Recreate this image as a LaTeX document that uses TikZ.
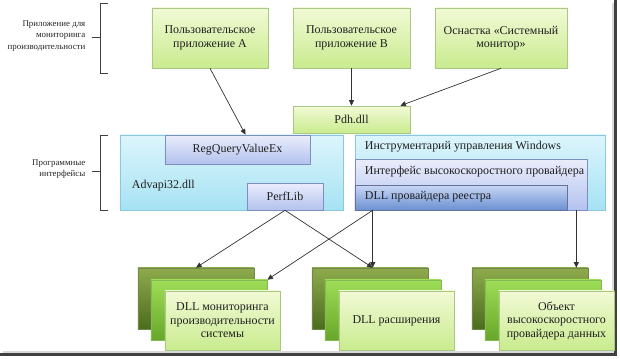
\documentclass[tikz,border=0pt]{standalone}
\usepackage{fontspec}
\setmainfont{Liberation Serif}
\usetikzlibrary{arrows.meta}
\definecolor{apptop}{HTML}{F2FAD6}
\definecolor{appbot}{HTML}{C9EB8E}
\definecolor{appline}{HTML}{A8C884}
\definecolor{apitop}{HTML}{DDF5FC}
\definecolor{apibot}{HTML}{A6E2F3}
\definecolor{apiline}{HTML}{8CC8DC}
\definecolor{ifctop}{HTML}{EAEDFB}
\definecolor{ifcbot}{HTML}{B3C2EE}
\definecolor{ifcline}{HTML}{7D8EC0}
\definecolor{dlltop}{HTML}{C9D7F5}
\definecolor{dllbot}{HTML}{6B90D2}
\definecolor{backtop}{HTML}{8EAA4C}
\definecolor{backbot}{HTML}{4C6C1E}
\definecolor{midtop}{HTML}{9EDD56}
\definecolor{midbot}{HTML}{68A62A}
\begin{document}
\begin{tikzpicture}[x=0.025cm,y=-0.025cm,
  txt/.style={font=\fontsize{8.5}{9.6}\selectfont,text=black!88},
  app/.style={txt,draw=appline,top color=apptop,bottom color=appbot,align=center,
    minimum height=1.5cm,inner sep=1pt},
  api/.style={draw=apiline,top color=apitop,bottom color=apibot,minimum height=1.875cm},
  ifc/.style={txt,draw=ifcline,top color=ifctop,bottom color=ifcbot,inner sep=1pt},
  back/.style={draw=backbot!80,top color=backtop,bottom color=backbot,
    minimum width=2.9cm,minimum height=1.525cm},
  mid/.style={draw=midbot!80,top color=midtop,bottom color=midbot,
    minimum width=2.9cm,minimum height=1.5cm},
  front/.style={app,minimum width=2.875cm,minimum height=1.475cm},
  link/.style={draw=black!80,line width=0.5pt,-{Triangle[length=4pt,width=3.6pt]}},
  brace/.style={draw=black!75,line width=0.6pt},
  side/.style={font=\fontsize{6.3}{8.2}\selectfont,text=black!85,align=right,anchor=east,inner sep=1pt},
]
\useasboundingbox (0,0) rectangle (620,358);
\fill[black!15] (612,3) rectangle (614,353);
\fill[black!15] (3,351) rectangle (614,353);
\draw[black!75,line width=1.5pt] (615.5,0) -- (615.5,354.5) -- (0,354.5);
\node[app,minimum width=2.9cm] (appA) at (210,38) {Пользовательское\\приложение А};
\node[app,minimum width=2.925cm] (appB) at (351.5,38) {Пользовательское\\приложение В};
\node[app,minimum width=3.3cm] (snap) at (501,38) {Оснастка «Системный\\монитор»};
\node[app,minimum width=2.925cm,minimum height=0.675cm] (pdh) at (351.5,119.5) {Pdh.dll};
\node[api,minimum width=5.575cm] (advapi) at (231.5,172.5) {};
\node[ifc,minimum width=3.625cm,minimum height=0.725cm] (regq) at (237.5,149.5) {RegQueryValueEx};
\node[ifc,minimum width=1.9cm,minimum height=0.675cm] (perflib) at (285,196.5) {PerfLib};
\node[txt,anchor=west] (advlbl) at (127,186) {Advapi32.dll};
\node[api,minimum width=6.25cm] (wmi) at (480,172.5) {};
\node[ifc,minimum width=5.8cm,minimum height=1.275cm] (hsp) at (471,184.5) {};
\node[ifc,draw=ifcline!80!black,top color=dlltop,bottom color=dllbot,
  minimum width=5.3cm,minimum height=0.625cm] (regdll) at (461,197.5) {};
\node[txt,anchor=west] (wmilbl) at (360,147) {Инструментарий управления Windows};
\node[txt,anchor=west] (hsplbl) at (360,171.5) {Интерфейс высокоскоростного провайдера};
\node[txt,anchor=west] (regdlllbl) at (360,197) {DLL провайдера реестра};
\foreach \x/\n/\t in {138/1/{DLL мониторинга\\производительности\\системы},
    312/2/{DLL расширения},472/3/{Объект\\высокоскоростного\\провайдера данных}}{
  \node[back] (back\n) at (\x+58,298.5) {};
  \node[mid] (mid\n) at (\x+71,310) {};
  \node[front] (front\n) at (\x+84.5,320.5) {\t};
}
\draw[brace] (108,3) -- (100,3) -- (100,73) -- (108,73) (92,37) -- (100,37);
\draw[brace] (108,135) -- (100,135) -- (100,210) -- (108,210) (92,171) -- (100,171);
\node[side] (applbl) at (87,36) {Приложение для\\мониторинга\\производительности};
\node[side] (apilbl) at (87,169) {Программные\\интерфейсы};
\coordinate (regout) at ([xshift=0.45cm]regdll.south west);
\coordinate (hspout) at ([xshift=-0.275cm]hsp.south east);
\draw[link] (appA.south) -- ([xshift=0.2cm]regq.north);
\draw[link] (appB.south) -- (pdh.north);
\draw[link] (snap.south) -- ([xshift=-0.25cm]pdh.north east);
\draw[link] (perflib.south) -- (back1.north);
\draw[link] (perflib.south) -- (regout |- back2.north);
\draw[link] (regout) -- (regout |- back2.north);
\draw[link] (regout) -- (mid1.north east);
\draw[link] (hspout) -- (hspout |- back3.north);
\end{tikzpicture}
\end{document}
